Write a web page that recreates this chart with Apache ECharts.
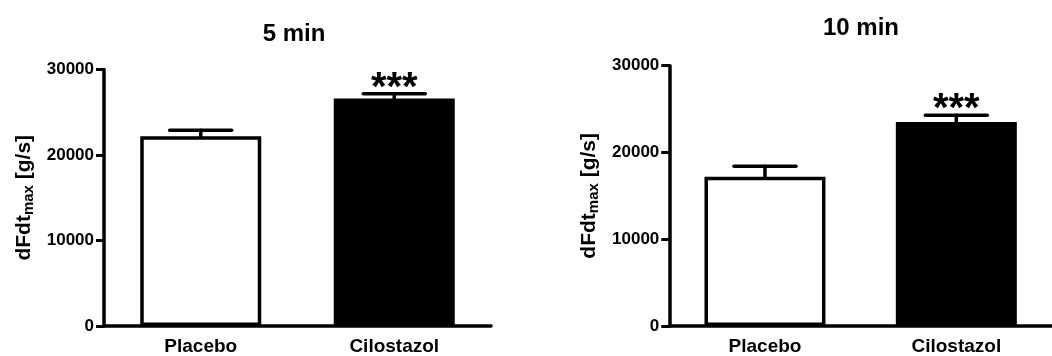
<!DOCTYPE html>
<html>
<head>
<meta charset="utf-8">
<script src="https://cdn.jsdelivr.net/npm/echarts@6/dist/echarts.min.js"></script>
<style>
  html, body { margin: 0; padding: 0; background: #fff; }
  #chart { width: 1052px; height: 356px; }
</style>
</head>
<body>
<div id="chart"></div>
<script>
// ---- Data ----
const categories = ['Placebo', 'Cilostazol'];
const yTicks = [0, 10000, 20000, 30000];
const titles = ['5 min', '10 min'];
const means5 = [22200, 26600];
const errs5 = [700, 550];
const stars5 = ['', '***'];
const means10 = [17200, 23500];
const errs10 = [1200, 800];
const stars10 = ['', '***'];

const FONT = 'Liberation Sans, Arial, sans-serif';
const barColors = ['#ffffff', '#000000'];

const chart = echarts.init(document.getElementById('chart'), null, { renderer: 'canvas' });

function grid(i) {
  return i === 0
    ? { left: 104, right: 561, top: 69.5, bottom: 27.5 }
    : { left: 669.3, right: -8.5, top: 65.7, bottom: 28.3 };
}

function xAxis(i) {
  return {
    type: 'category', gridIndex: i, data: categories,
    axisLine: { lineStyle: { color: '#000', width: 3.5 } },
    axisTick: { show: false },
    axisLabel: { color: '#000', fontFamily: FONT, fontWeight: 'bold', fontSize: 19, margin: 11 }
  };
}

function yAxis(i) {
  return {
    type: 'value', gridIndex: i, min: yTicks[0], max: yTicks[yTicks.length - 1], interval: yTicks[1] - yTicks[0],
    splitLine: { show: false },
    axisLine: { show: true, lineStyle: { color: '#000', width: 3.5 } },
    axisTick: { show: true, length: 8, lineStyle: { color: '#000', width: 3 } },
    axisLabel: { color: '#000', fontFamily: FONT, fontWeight: 'bold', fontSize: 17, margin: 10,
                 formatter: function (v) { return String(v); } },
    name: '{a|dFdt}{b|max}{a| [g/s]}',
    nameLocation: 'middle', nameRotate: 90, nameGap: 68,
    nameTextStyle: {
      rich: {
        a: { fontFamily: FONT, fontWeight: 'bold', fontSize: 21, color: '#000' },
        b: { fontFamily: FONT, fontWeight: 'bold', fontSize: 15, color: '#000', padding: [9, 0, 0, 0] }
      }
    }
  };
}

function barSeries(i, means) {
  return {
    type: 'bar', xAxisIndex: i, yAxisIndex: i, barWidth: 121, z: 3,
    data: means.map((v, k) => ({
      value: v,
      itemStyle: { color: barColors[k], borderColor: '#000', borderWidth: 3.5 }
    }))
  };
}

function errSeries(i, means, errs, stars) {
  return {
    type: 'custom', xAxisIndex: i, yAxisIndex: i, z: 2,
    data: means.map((v, k) => [k, v, v + errs[k], stars[k]]),
    renderItem: function (params, api) {
      const base = api.coord([api.value(0), api.value(1)]);
      const top = api.coord([api.value(0), api.value(2)]);
      const half = 31;
      const st = { stroke: '#000', lineWidth: 3.5, lineCap: 'round' };
      const children = [
        { type: 'line', shape: { x1: base[0], y1: base[1], x2: top[0], y2: top[1] }, style: st },
        { type: 'line', shape: { x1: top[0] - half, y1: top[1], x2: top[0] + half, y2: top[1] }, style: st }
      ];
      const s = stars[params.dataIndex];
      if (s) {
        children.push({
          type: 'text',
          style: { text: s, x: top[0], y: top[1] - 5, textAlign: 'center', textVerticalAlign: 'middle',
                   font: 'bold 40px ' + FONT, fill: '#000' }
        });
      }
      return { type: 'group', children: children };
    }
  };
}

chart.setOption({
  animation: false,
  backgroundColor: '#fff',
  title: [
    { text: titles[0], left: 289, top: 17, textAlign: 'center',
      textStyle: { fontFamily: FONT, fontWeight: 'bold', fontSize: 24, color: '#000' } },
    { text: titles[1], left: 856, top: 11, textAlign: 'center',
      textStyle: { fontFamily: FONT, fontWeight: 'bold', fontSize: 24, color: '#000' } }
  ],
  grid: [grid(0), grid(1)],
  xAxis: [xAxis(0), xAxis(1)],
  yAxis: [yAxis(0), yAxis(1)],
  series: [
    barSeries(0, means5), errSeries(0, means5, errs5, stars5),
    barSeries(1, means10), errSeries(1, means10, errs10, stars10)
  ]
});
</script>
</body>
</html>
